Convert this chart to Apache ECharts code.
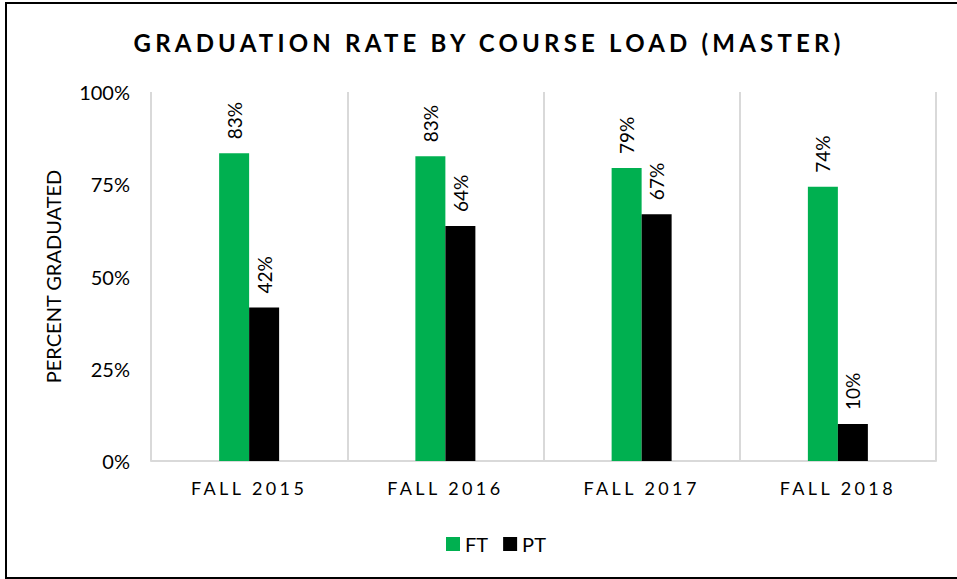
<!DOCTYPE html>
<html>
<head>
<meta charset="utf-8">
<script src="https://cdn.jsdelivr.net/npm/echarts@6/dist/echarts.min.js"></script>
<style>
  html, body { margin: 0; padding: 0; background: #fff; }
  #chart { position: absolute; left: 0; top: 0; width: 957px; height: 579px; }
  #frame { position: absolute; left: 5px; top: 2px; width: 960px; height: 577px;
           border: 2px solid #000; box-sizing: border-box; pointer-events: none; }
  /* spaced-out caps like the original */
  #chart text[style*="titlefont"] { letter-spacing: 4.2px; }
  #chart text[style*="xlabfont"] { letter-spacing: 3.4px; }
</style>
</head>
<body>
<div id="chart"></div>
<div id="frame"></div>
<script>
  // data
  const terms = ["FALL 2015", "FALL 2016", "FALL 2017", "FALL 2018"];
  const ftRate = [83.4, 82.6, 79.4, 74.3];
  const ptRate = [41.6, 63.7, 66.9, 10.0];
  const yTicks = [0, 25, 50, 75, 100];

  const chart = echarts.init(document.getElementById("chart"), null, { renderer: "svg" });

  const barLabel = {
    show: true,
    position: "top",
    rotate: 90,
    align: "left",
    verticalAlign: "middle",
    distance: 14,
    color: "#000",
    fontFamily: "Lato",
    fontSize: 19,
    formatter: p => Math.round(p.value) + "%"
  };

  const option = {
    animation: false,
    backgroundColor: "#fff",
    title: {
      text: "GRADUATION RATE BY COURSE LOAD (MASTER)",
      left: 484,
      top: 25,
      textAlign: "center",
      textStyle: {
        fontFamily: "Lato, titlefont",
        fontWeight: "bold",
        fontSize: 24,
        color: "#000"
      }
    },
    legend: {
      data: ["FT", "PT"],
      left: 441,
      top: 529,
      itemWidth: 14,
      itemHeight: 14,
      itemGap: 15,
      icon: "rect",
      textStyle: { fontFamily: "Lato", fontSize: 20, color: "#000" }
    },
    grid: {
      left: 151,
      right: 21,
      top: 92,
      bottom: 118
    },
    xAxis: {
      type: "category",
      data: terms,
      axisLine: { show: true, lineStyle: { color: "#d9d9d9", width: 2 } },
      axisTick: { show: false },
      splitLine: { show: true, interval: 0, lineStyle: { color: "#d9d9d9", width: 2 } },
      axisLabel: {
        margin: 18,
        fontFamily: "Lato, xlabfont",
        fontSize: 18,
        color: "#000"
      }
    },
    yAxis: {
      type: "value",
      min: yTicks[0],
      max: yTicks[yTicks.length - 1],
      interval: yTicks[1] - yTicks[0],
      name: "PERCENT GRADUATED",
      nameLocation: "middle",
      nameGap: 88,
      nameTextStyle: { fontFamily: "Lato", fontSize: 20, color: "#000" },
      axisLine: { show: false },
      axisTick: { show: false },
      splitLine: { show: false },
      axisLabel: {
        margin: 21,
        fontFamily: "Lato",
        fontSize: 20,
        color: "#000",
        formatter: v => v + "%"
      }
    },
    series: [
      {
        name: "FT",
        type: "bar",
        data: ftRate,
        barWidth: 30,
        barGap: "0%",
        itemStyle: { color: "#00b050" },
        label: barLabel
      },
      {
        name: "PT",
        type: "bar",
        data: ptRate,
        barWidth: 30,
        barGap: "0%",
        itemStyle: { color: "#000000" },
        label: barLabel
      }
    ]
  };

  chart.setOption(option);
</script>
</body>
</html>
